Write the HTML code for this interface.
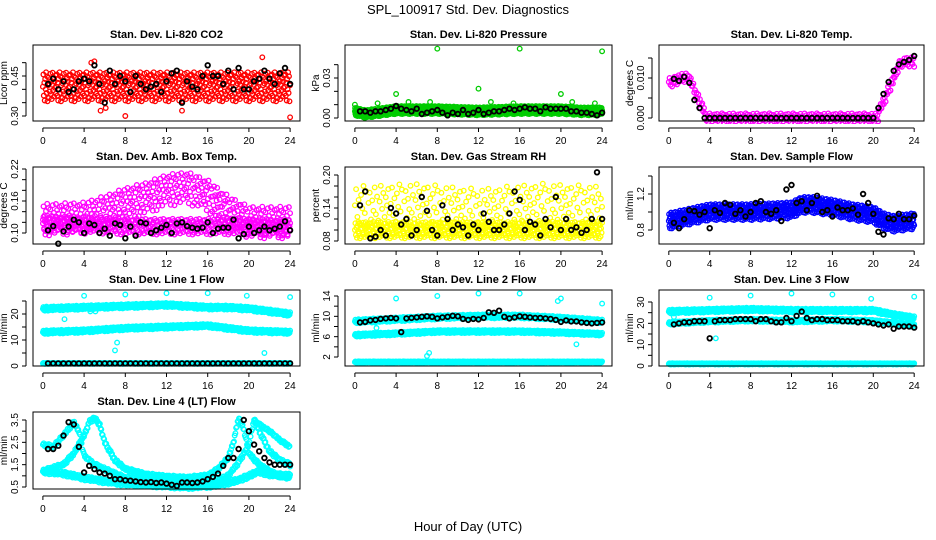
<!DOCTYPE html>
<html><head><meta charset="utf-8"><style>
body{margin:0;background:#fff}
svg{display:block;font-family:"Liberation Sans",Arial,sans-serif}
</style></head><body>
<svg id="chart" width="936" height="540" viewBox="0 0 936 540">
<rect width="936" height="540" fill="#fff"/>
<text x="468" y="14" text-anchor="middle" font-size="13">SPL_100917  Std. Dev. Diagnostics</text>
<text x="468" y="531" text-anchor="middle" font-size="13">Hour of Day (UTC)</text>
</svg>
<script>
// ---- data arrays ----
const hourTicks=[0,4,8,12,16,20,24];
const fill=[0,0.83,-0.61,0.27,-0.94,0.52,-0.18,0.98,-0.43,0.71,-1,0.09,0.62,-0.77,0.21,-0.33,0.88,-0.52,0.4,-0.85,0.13,0.95,-0.25,0.57,-0.68,0.34,-0.08,0.76,-0.47];
const co2Band={t:[0,24],c:[0.41,0.41],s:0.055};
const co2Black=[0.42,0.44,0.40,0.43,0.39,0.40,0.43,0.44,0.43,0.49,0.42,0.35,0.47,0.42,0.45,0.43,0.39,0.45,0.42,0.40,0.41,0.42,0.39,0.43,0.46,0.47,0.35,0.43,0.41,0.40,0.45,0.49,0.45,0.45,0.42,0.47,0.40,0.48,0.40,0.40,0.43,0.44,0.47,0.44,0.42,0.46,0.48,0.42];
const co2Out=[[4.7,0.50],[5,0.505],[5.6,0.32],[8,0.30],[13.5,0.32],[21.3,0.52],[24,0.295],[6.1,0.33]];
const presBand={t:[0,1,2,4,8,12,16,20,22,24],c:[0.005,0.003,0.004,0.006,0.006,0.005,0.006,0.006,0.005,0.005],s:0.003};
const presBlack=[0.005,0.005,0.004,0.005,0.005,0.006,0.007,0.009,0.007,0.006,0.005,0.007,0.003,0.004,0.005,0.006,0.004,0.002,0.004,0.003,0.006,0.003,0.004,0.006,0.003,0.004,0.005,0.005,0.006,0.007,0.006,0.007,0.008,0.007,0.007,0.005,0.008,0.007,0.007,0.007,0.007,0.005,0.005,0.004,0.004,0.003,0.002,0.004];
const presOut=[[0,0.010],[2.2,0.011],[4,0.018],[5.2,0.012],[7.3,0.012],[8,0.052],[12,0.022],[13.2,0.012],[15.4,0.011],[16,0.052],[20,0.018],[21.1,0.012],[23.3,0.011],[24,0.050]];
const tempBand={t:[0,0.5,1,2,2.5,3,3.5,3.6,20.5,20.6,21,21.5,22,22.5,23,24],c:[0.009,0.009,0.010,0.010,0.007,0.004,0.002,0,0,0.002,0.004,0.007,0.010,0.013,0.014,0.014],s:0.0012};
const tempBlack=[0.0098,0.0093,0.0103,0.0088,0.0045,0.0025,0,0,0,0,0,0,0,0,0,0,0,0,0,0,0,0,0,0,0,0,0,0,0,0,0,0,0,0,0,0,0,0,0,0,0.0025,0.0060,0.0090,0.0118,0.0134,0.0140,0.0145,0.0155];
const ambLow={t:[0,4,8,12,16,20,24],c:[0.118,0.115,0.112,0.112,0.112,0.112,0.110],s:0.015};
const ambHigh={t:[0,4,6,8,10,12,14,16,18,20,24],c:[0.125,0.128,0.14,0.155,0.165,0.18,0.185,0.17,0.14,0.12,0.12],s:0.03};
const ambBlack=[0.105,0.113,0.08,0.103,0.112,0.125,0.12,0.10,0.118,0.115,0.10,0.108,0.095,0.118,0.115,0.09,0.112,0.095,0.12,0.118,0.10,0.105,0.11,0.115,0.10,0.118,0.12,0.113,0.11,0.108,0.11,0.12,0.10,0.108,0.11,0.11,0.125,0.09,0.098,0.112,0.10,0.105,0.112,0.105,0.108,0.112,0.122,0.105];
const rhLow={t:[0,24],c:[0.10,0.10],s:0.015};
const rhHigh={t:[0,6,12,18,24],c:[0.145,0.15,0.14,0.15,0.145],s:0.035};
const rhBlack=[0.145,0.17,0.085,0.088,0.10,0.09,0.14,0.13,0.11,0.12,0.09,0.10,0.16,0.135,0.10,0.09,0.145,0.12,0.10,0.11,0.105,0.09,0.11,0.10,0.13,0.115,0.10,0.10,0.11,0.13,0.17,0.155,0.10,0.115,0.11,0.09,0.12,0.105,0.16,0.10,0.12,0.10,0.105,0.095,0.10,0.12,0.205,0.12];
const flowBand={t:[0,2,4,8,12,13,14,16,18,20,21,22,24],c:[0.9,0.95,1.0,1.0,1.02,1.08,1.08,1.05,1.0,0.97,0.9,0.87,0.9],s:0.09};
const flowBlack=[0.88,0.82,0.92,1.02,1.01,0.97,1.0,0.82,1.02,0.99,1.1,1.08,0.98,1.02,0.95,1.0,1.1,1.12,1.0,0.98,1.02,0.9,1.25,1.3,1.1,1.12,1.02,1.1,1.18,1.0,1.02,0.95,1.05,1.02,1.02,1.04,0.97,1.2,1.1,0.98,0.78,0.75,0.93,0.92,0.98,0.92,0.92,0.96];
const l1Top={t:[0,4,8,12,16,18,20,22,24],c:[22,22.5,23,23.5,22.5,22.5,22,21,20],s:0.8};
const l1Mid={t:[0,4,8,12,16,20,24],c:[13,13.5,14.5,15,15.5,13.5,13],s:0.7};
const l1Low={t:[0,24],c:[1,1],s:0.2};
const l1Black=Array(48).fill(1);
const l1Out=[[4,27],[4.6,21],[5.1,21],[7,6],[7.2,9],[8,27.5],[12,28],[16,28],[19.8,27],[21.5,5],[24,26.5],[2.1,18]];
const l2Top={t:[0,4,8,12,16,20,24],c:[9,9.4,9.8,10,10,9.6,9],s:0.4};
const l2Mid={t:[0,4,8,12,16,20,24],c:[6.3,6.6,7,7,7,6.8,6.5],s:0.3};
const l2Low={t:[0,24],c:[1,1],s:0.15};
const l2Black=[8.8,8.9,9.2,9.3,9.5,9.6,9.7,9.6,6.9,9.6,9.7,9.8,9.9,10,9.9,9.6,9.8,9.9,10.1,10,9.5,9.3,9.5,9.4,9.7,10.8,10.7,11.1,9.9,9.6,9.8,10.0,9.9,9.8,9.7,9.7,9.6,9.5,9.3,8.9,9.2,9.0,9.0,8.8,8.7,8.6,8.7,8.8];
const l2Out=[[4,13.5],[8,14],[7,2.2],[7.2,2.8],[12,14.5],[16,14.5],[19.7,13],[20,13.5],[24,12.5],[21.5,4.5],[2.1,7.7]];
const l3Top={t:[0,4,8,12,16,20,22,24],c:[25.5,26,26.5,26,26,26,24,22.5],s:0.9};
const l3Mid={t:[0,4,8,12,16,20,24],c:[20,21,21.5,21,21.5,21,19],s:0.7};
const l3Low={t:[0,24],c:[1,1],s:0.3};
const l3Black=[19.5,20,20.5,20.5,21,21,21,13,21,21.5,21.5,21.5,22,22,22,22,21,22,22,21,20.5,20.5,22.5,21,23.5,25.5,22.5,21.5,22,22,21.5,21.5,21.5,21,21,21,20.5,21,20.5,20,19.5,19,19.5,17.5,18.5,18.5,18.5,18];
const l3Out=[[4,32],[8,33],[12,34],[16,33.5],[19.8,31.5],[24,32.5],[0.5,23],[4.6,13]];
const l4A={t:[0,2,3,4,6,8,10,12,14,16,17,18,19,20,21,22,24],c:[1.2,1.1,1.0,0.9,0.75,0.65,0.6,0.55,0.5,0.55,0.6,0.7,0.8,1.0,1.2,1.05,1.0],s:0.1};
const l4B={t:[0,1,2,3,3.5,4,5,6,8,10,12,14,16,17,18,19,20,20.5,21,22,23,24],c:[2.4,2.3,2.8,3.4,3.0,1.9,1.5,1.3,0.9,0.8,0.7,0.65,0.7,0.8,1.0,1.6,2.4,3.5,3.0,2.1,1.7,1.5],s:0.08};
const l4C={t:[0,2,3,4,4.5,5,5.5,6,7,8,10,12,14,16,17,18,18.5,19,19.5,20,21,22,23,24],c:[1.2,1.5,2.0,2.8,3.4,3.6,3.3,2.5,1.7,1.3,1.05,0.95,0.9,1.0,1.3,1.8,2.5,3.6,3.1,2.0,1.5,1.2,1.0,0.9],s:0.08};
const l4D={t:[20.5,21,22,23,24],c:[3.5,3.3,3.0,2.6,2.3],s:0.06};

const l4Black=[2.2,2.2,2.35,2.8,3.4,3.3,2.3,1.15,1.45,1.3,1.15,1.1,1.0,0.85,0.85,0.8,0.78,0.75,0.72,0.7,0.72,0.68,0.7,0.65,0.6,0.55,0.7,0.7,0.68,0.7,0.75,0.85,0.95,1.1,1.45,1.8,1.8,2.2,3.5,3.0,2.4,2.1,1.8,1.6,1.5,1.5,1.5,1.5];

const cols=[{bx:33,bw:267},{bx:345,bw:267},{bx:659,bw:265}];
const rows=[{by:45,bh:76},{by:167,bh:77},{by:290,bh:76},{by:412,bh:77}];
const panels=[
 {n:'co2',title:'Stan. Dev. Li-820 CO2',ylab:'Licor ppm',r:0,c:0,ref:[0.30,116,0.45,76],ticks:[0.30,0.35,0.40,0.45,0.50],labs:['0.30','0.45'],labv:[0.30,0.45],clouds:[[co2Band,'#ff0000',0.045]],black:co2Black,out:[[co2Out,'#ff0000']]},
 {n:'pressure',title:'Stan. Dev. Li-820 Pressure',ylab:'kPa',r:0,c:1,ref:[0,118,0.03,78],ticks:[0,0.01,0.02,0.03,0.04],labs:['0.00','0.03'],labv:[0,0.03],clouds:[[presBand,'#00cc00',0.025]],black:presBlack,out:[[presOut,'#00cc00']]},
 {n:'temp',title:'Stan. Dev. Li-820 Temp.',ylab:'degrees C',r:0,c:2,ref:[0,118,0.01,78],ticks:[0,0.005,0.010,0.015],labs:['0.000','0.010'],labv:[0,0.010],clouds:[[tempBand,'#ff00ff',0.08]],black:tempBlack,out:[]},
 {n:'amb-box',title:'Stan. Dev. Amb. Box Temp.',ylab:'degrees C',r:1,c:0,ref:[0.10,233,0.22,169],ticks:[0.10,0.12,0.14,0.16,0.18,0.20,0.22],labs:['0.10','0.16','0.22'],labv:[0.10,0.16,0.22],clouds:[[ambLow,'#ff00ff',0.06],[ambHigh,'#ff00ff',0.06]],black:ambBlack,out:[]},
 {n:'rh',title:'Stan. Dev. Gas Stream RH',ylab:'percent',r:1,c:1,ref:[0.08,241,0.20,175],ticks:[0.08,0.10,0.12,0.14,0.16,0.18,0.20],labs:['0.08','0.14','0.20'],labv:[0.08,0.14,0.20],clouds:[[rhLow,'#ffff00',0.05],[rhHigh,'#ffff00',0.12]],black:rhBlack,out:[]},
 {n:'sample-flow',title:'Stan. Dev. Sample Flow',ylab:'ml/min',r:1,c:2,ref:[0.8,230,1.2,194],ticks:[0.8,1.0,1.2,1.4],labs:['0.8','1.2'],labv:[0.8,1.2],clouds:[[flowBand,'#0000ff',0.03]],black:flowBlack,out:[]},
 {n:'line1',title:'Stan. Dev. Line 1 Flow',ylab:'ml/min',r:2,c:0,ref:[0,366,20,314],ticks:[0,5,10,15,20,25],labs:['0','10','20'],labv:[0,10,20],clouds:[[l1Top,'#00ffff',0.05],[l1Mid,'#00ffff',0.05],[l1Low,'#00ffff',0.05]],black:l1Black,out:[[l1Out,'#00ffff']]},
 {n:'line2',title:'Stan. Dev. Line 2 Flow',ylab:'ml/min',r:2,c:1,ref:[2,357,14,296],ticks:[2,4,6,8,10,12,14],labs:['2','6','10','14'],labv:[2,6,10,14],clouds:[[l2Top,'#00ffff',0.05],[l2Mid,'#00ffff',0.05],[l2Low,'#00ffff',0.05]],black:l2Black,out:[[l2Out,'#00ffff']]},
 {n:'line3',title:'Stan. Dev. Line 3 Flow',ylab:'ml/min',r:2,c:2,ref:[0,366,30,302],ticks:[0,5,10,15,20,25,30],labs:['0','10','20','30'],labv:[0,10,20,30],clouds:[[l3Top,'#00ffff',0.05],[l3Mid,'#00ffff',0.05],[l3Low,'#00ffff',0.05]],black:l3Black,out:[[l3Out,'#00ffff']]},
 {n:'line4',title:'Stan. Dev. Line 4 (LT) Flow',ylab:'ml/min',r:3,c:0,ref:[0.5,487,3.5,420],ticks:[0.5,1,1.5,2,2.5,3,3.5],labs:['0.5','1.5','2.5','3.5'],labv:[0.5,1.5,2.5,3.5],clouds:[[l4A,'#00ffff',0.06],[l4B,'#00ffff',0.08],[l4C,'#00ffff',0.07],[l4D,'#00ffff',0.08]],black:l4Black,out:[]}
];

const NS='http://www.w3.org/2000/svg';
const svg=document.getElementById('chart');
function mk(tag,attrs,parent){const e=document.createElementNS(NS,tag);for(const k in attrs)e.setAttribute(k,attrs[k]);parent.appendChild(e);return e;}
function interp(b,t){const T=b.t,C=b.c;if(t<=T[0])return C[0];for(let i=1;i<T.length;i++){if(t<=T[i]){const f=(t-T[i-1])/(T[i]-T[i-1]);return C[i-1]+f*(C[i]-C[i-1]);}}return C[C.length-1];}
function pt(g,x,y,col){const e=mk('circle',{cx:x.toFixed(1),cy:y.toFixed(1),r:2.3,fill:'none',stroke:col,'stroke-width':1.3},g);return e;}

panels.forEach(p=>{
 const C=cols[p.c],R=rows[p.r];
 const g=mk('g',{},svg);
 
 
 const pad=C.bw*0.04/1.08;
 const xs=t=>C.bx+pad+(t/24)*(C.bw-2*pad);
 const [va,ya,vb,yb]=p.ref;
 const ys=v=>ya+(v-va)*(yb-ya)/(vb-va);
 const tt=mk('text',{x:C.bx+C.bw/2,y:R.by-7,'text-anchor':'middle','font-size':11,'font-weight':'bold'},g);
 tt.textContent=p.title;
 
 
 const cp=mk('clipPath',{id:'cp-'+p.n},g);
 mk('rect',{x:C.bx,y:R.by-3,width:C.bw,height:R.bh+6},cp);
 const pts=mk('g',{'clip-path':'url(#cp-'+p.n+')'},g);
 
 
 p.clouds.forEach(([b,col,step])=>{
  let k=0;
  const t0=b.t[0],t1=b.t[b.t.length-1];
  for(let t=t0;t<=t1+1e-9;t+=step){const v=interp(b,t)+fill[k%fill.length]*b.s;k++;pt(pts,xs(t),ys(v),col);}
 });
 p.out.forEach(([arr,col])=>arr.forEach(([t,v])=>pt(pts,xs(t),ys(v),col)));
 p.black.forEach((v,i)=>{const e=pt(pts,xs(0.5+i*0.5),ys(v),'#000');e.setAttribute('stroke-width',1.8);});
 const box=mk('rect',{x:C.bx,y:R.by,width:C.bw,height:R.bh,fill:'none',stroke:'#000','stroke-width':1},g);
 
 
 const ax=mk('g',{},g);
 
 
 const yb0=R.by+R.bh;
 mk('line',{x1:xs(0),x2:xs(24),y1:yb0+7,y2:yb0+7,stroke:'#000'},ax);
 hourTicks.forEach(h=>{mk('line',{x1:xs(h),x2:xs(h),y1:yb0+7,y2:yb0+11,stroke:'#000'},ax);
  const l=mk('text',{x:xs(h),y:yb0+23,'text-anchor':'middle','font-size':10},ax);l.textContent=String(h);});
 const ay=mk('g',{},g);
 
 
 const xa=C.bx-7;
 mk('line',{x1:xa,x2:xa,y1:ys(p.ticks[0]),y2:ys(p.ticks[p.ticks.length-1]),stroke:'#000'},ay);
 p.ticks.forEach(v=>mk('line',{x1:xa-4,x2:xa,y1:ys(v),y2:ys(v),stroke:'#000'},ay));
 p.labs.forEach((s,i)=>{const y=ys(p.labv[i]);const l=mk('text',{x:0,y:0,'text-anchor':'middle','font-size':10,transform:`translate(${xa-8},${y}) rotate(-90)`},ay);l.textContent=s;});
 const yt=mk('text',{x:0,y:0,'text-anchor':'middle','font-size':10,transform:`translate(${C.bx-26},${R.by+R.bh/2}) rotate(-90)`},g);
 yt.textContent=p.ylab;
 
 
});
</script>
</body></html>
